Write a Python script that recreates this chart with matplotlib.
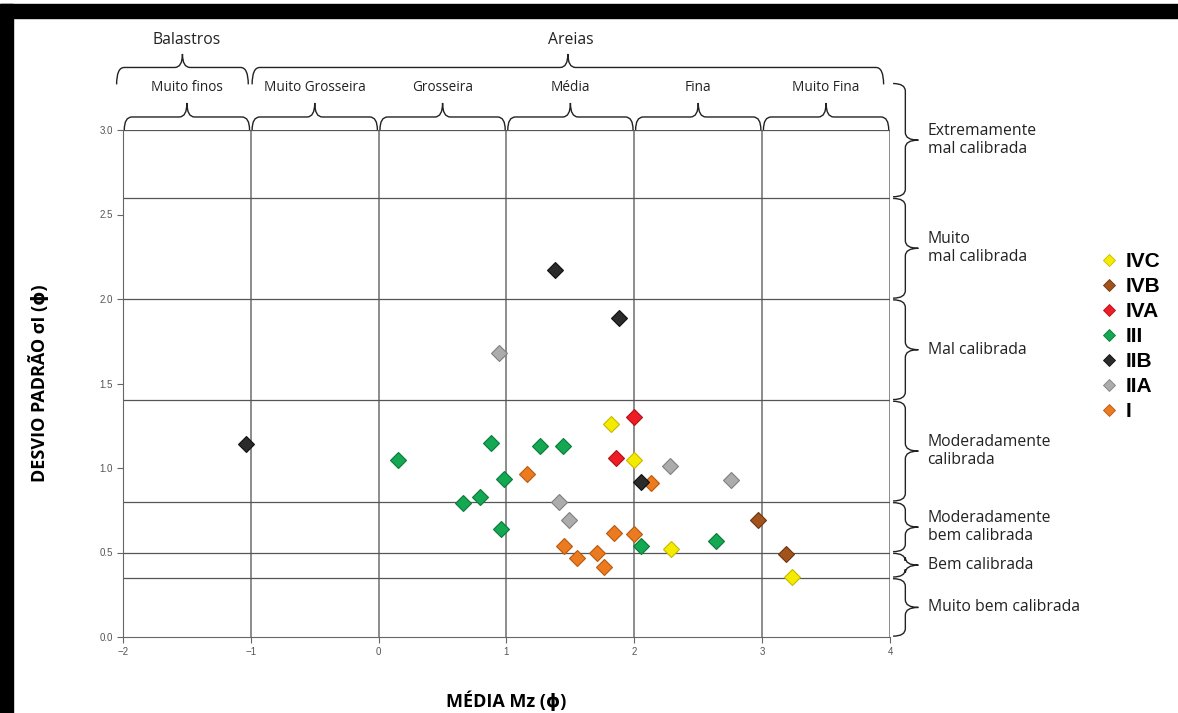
import matplotlib
matplotlib.use('Agg')

import matplotlib.pyplot as plt
from matplotlib.path import Path
from matplotlib.patches import PathPatch, Rectangle
from matplotlib.transforms import blended_transform_factory

# grain size classes (Mz, phi) and sorting classes (sigma I, phi)
size_edges = [-2, -1, 0, 1, 2, 3, 4]
size_names = ['Muito finos', 'Muito Grosseira', 'Grosseira', 'Média', 'Fina', 'Muito Fina']
sort_edges = [3.0, 2.6, 2.0, 1.4, 0.8, 0.5, 0.35, 0.0]
sort_names = ['Extremamente\nmal calibrada', 'Muito\nmal calibrada', 'Mal calibrada',
              'Moderadamente\ncalibrada', 'Moderadamente\nbem calibrada', 'Bem calibrada',
              'Muito bem calibrada']

# samples per unit
ivc_x = [1.82, 2.00, 2.29, 3.23]
ivc_y = [1.26, 1.05, 0.52, 0.355]
ivb_x = [2.97, 3.19]
ivb_y = [0.69, 0.49]
iva_x = [1.86, 2.00]
iva_y = [1.06, 1.30]
iii_x = [0.15, 0.66, 0.79, 0.875, 0.98, 0.96, 1.26, 1.44, 2.05, 2.64]
iii_y = [1.05, 0.79, 0.83, 1.15, 0.935, 0.64, 1.13, 1.13, 0.54, 0.57]
iib_x = [-1.04, 1.38, 1.88, 2.05]
iib_y = [1.14, 2.17, 1.89, 0.92]
iia_x = [0.94, 1.41, 1.49, 2.28, 2.76]
iia_y = [1.68, 0.80, 0.69, 1.01, 0.93]
i_x = [1.16, 2.13, 1.84, 2.00, 1.45, 1.55, 1.71, 1.76]
i_y = [0.965, 0.91, 0.615, 0.61, 0.54, 0.47, 0.50, 0.415]

series = [
    ('IVC', ivc_x, ivc_y, '#f3ec00', '#c9b800'),
    ('IVB', ivb_x, ivb_y, '#a2521b', '#6e3510'),
    ('IVA', iva_x, iva_y, '#ee1c24', '#b01218'),
    ('III', iii_x, iii_y, '#14a852', '#0b7a3a'),
    ('IIB', iib_x, iib_y, '#2b2b2b', '#111111'),
    ('IIA', iia_x, iia_y, '#acacac', '#808080'),
    ('I', i_x, i_y, '#ec7a1e', '#b85a10'),
]

TXT_FONT = ['Open Sans', 'DejaVu Sans']


def brace(ax, a0, a1, base, mid, tip, ra, trans, vertical=False, lw=1.0):
    ac = (a0 + a1) / 2
    pts = [(a0, base), (a0, mid), (a0 + ra, mid), (ac - ra, mid), (ac, mid), (ac, tip),
           (ac, mid), (ac + ra, mid), (a1 - ra, mid), (a1, mid), (a1, base)]
    codes = [Path.MOVETO, Path.CURVE3, Path.CURVE3, Path.LINETO, Path.CURVE3, Path.CURVE3,
             Path.CURVE3, Path.CURVE3, Path.LINETO, Path.CURVE3, Path.CURVE3]
    if vertical:
        pts = [(p[1], p[0]) for p in pts]
    patch = PathPatch(Path(pts, codes), facecolor='none', edgecolor='#222222',
                      lw=lw, transform=trans, clip_on=False)
    ax.add_patch(patch)


fig = plt.figure(figsize=(11.78, 7.13), dpi=100)
ax = fig.add_axes([123 / 1178, 76 / 713, 767 / 1178, 507 / 713])

# black frame pieces of the original screenshot
fig.patches.append(Rectangle((0, 1 - 18 / 713), 1, 14 / 713, color='black', transform=fig.transFigure))
fig.patches.append(Rectangle((0, 0), 13 / 1178, 1 - 4 / 713, color='black', transform=fig.transFigure))

ax.set_xlim(size_edges[0], size_edges[-1])
ax.set_ylim(0, 3.0)

# class lines
for x in size_edges[1:]:
    ax.plot([x, x], [0, sort_edges[0]], color='#6e6e6e', lw=1.1, zorder=1)
for y in sort_edges[:-1]:
    ax.plot([size_edges[0], size_edges[-1]], [y, y], color='#555555', lw=0.9, zorder=1)

for name, xs, ys, col, ecol in series[::-1]:
    ax.plot(xs, ys, linestyle='none', marker='D', markersize=8.5, color=col,
            markeredgecolor=ecol, markeredgewidth=0.8, zorder=3)

for s in ['top', 'right']:
    ax.spines[s].set_visible(False)
for s in ['left', 'bottom']:
    ax.spines[s].set_color('#666666')
ax.set_xticks(size_edges)
ax.set_yticks([0.0, 0.5, 1.0, 1.5, 2.0, 2.5, 3.0])
ax.set_yticklabels(['0.0', '0.5', '1.0', '1.5', '2.0', '2.5', '3.0'])
ax.tick_params(colors='#666666', labelcolor='#555555', labelsize=7, length=4, width=0.8)
for lab in ax.get_xticklabels() + ax.get_yticklabels():
    lab.set_family('Liberation Sans')

ax.set_xlabel('MÉDIA Mz (ϕ)', fontsize=13, fontweight='bold', family=TXT_FONT, labelpad=24)
ax.set_ylabel('DESVIO PADRÃO σI (ϕ)', fontsize=13, fontweight='bold', family=TXT_FONT, labelpad=36)

# top braces: size classes
for k, name in enumerate(size_names):
    a0, a1 = size_edges[k] + 0.01, size_edges[k + 1] - 0.01
    brace(ax, a0, a1, 3.0, 3.077, 3.16, 0.06, ax.transData)
    ax.text((a0 + a1) / 2, 3.25, name, ha='center', va='center', fontsize=9.8,
            family=TXT_FONT, color='#222222')

brace(ax, -2.05, -1.02, 3.27, 3.37, 3.45, 0.06, ax.transData)
brace(ax, -0.99, 3.95, 3.27, 3.37, 3.45, 0.06, ax.transData)
ax.text(-1.5, 3.53, 'Balastros', ha='center', va='center', fontsize=11.3, family=TXT_FONT, color='#222222')
ax.text(1.5, 3.53, 'Areias', ha='center', va='center', fontsize=11.3, family=TXT_FONT, color='#222222')

# right braces: sorting classes
bt = blended_transform_factory(ax.transAxes, ax.transData)
tops = [3.28] + sort_edges[1:-1]
for k, name in enumerate(sort_names):
    y0, y1 = tops[k], sort_edges[k + 1]
    brace(ax, y1 + 0.005, y0 - 0.005, 1.004, 1.02, 1.037, 0.045, bt, vertical=True)
    ax.text(1.049, (y0 + y1) / 2, name, transform=bt, ha='left', va='center',
            fontsize=11.3, family=TXT_FONT, color='#222222', linespacing=1.15)

# legend
handles = [plt.Line2D([], [], linestyle='none', marker='D', markersize=6.5, color=c,
                      markeredgecolor=e, markeredgewidth=0.6) for _, _, _, c, e in series]
leg = fig.legend(handles, [s[0] for s in series], loc='upper left',
                 bbox_to_anchor=(1102 / 1178, 1 - 252 / 713), frameon=False,
                 prop={'family': 'Liberation Sans', 'weight': 'bold', 'size': 15},
                 handlelength=0.7, handletextpad=0.45, labelspacing=0.29, borderaxespad=0,
                 borderpad=0)

fig.savefig('out.png', dpi=100)
